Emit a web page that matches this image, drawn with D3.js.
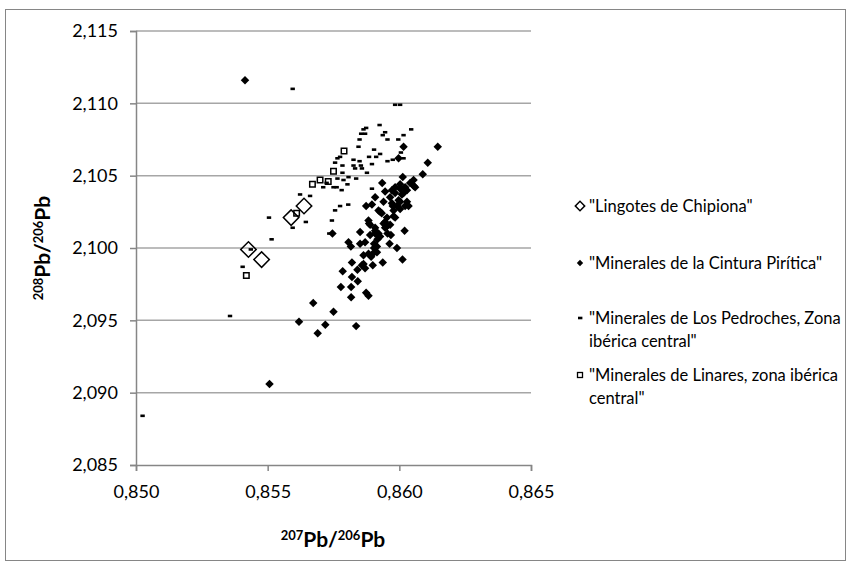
<!DOCTYPE html>
<html>
<head>
<meta charset="utf-8">
<script src="https://cdn.jsdelivr.net/npm/d3@7"></script>
<style>
  body { margin: 0; background: #fff; }
  svg { font-family: Lato, "Open Sans", sans-serif; }
</style>
</head>
<body>
<svg width="851" height="570"></svg>
<script>
// Lead isotope ratios: [207Pb/206Pb, 208Pb/206Pb]
var lingotes = [
  [0.85427, 2.0999], [0.85477, 2.0992], [0.85589, 2.1021], [0.85638, 2.1029]
];

var cintura = [
  [0.85414, 2.1116], [0.85507, 2.0906], [0.85619, 2.0949], [0.85673, 2.0962],
  [0.85690, 2.0941], [0.85719, 2.0947], [0.85750, 2.0956], [0.85836, 2.0946],
  [0.85778, 2.0973], [0.85817, 2.0973], [0.85817, 2.0966], [0.85874, 2.0969],
  [0.85883, 2.0967], [0.85785, 2.0984], [0.85820, 2.0980], [0.85842, 2.0977],
  [0.85820, 2.0990], [0.85841, 2.0985], [0.85864, 2.0989], [0.85858, 2.0988],
  [0.85870, 2.0986], [0.85899, 2.0988], [0.85937, 2.0990], [0.86012, 2.0992],
  [0.85864, 2.0995], [0.85893, 2.0994], [0.85883, 2.0996], [0.85915, 2.0997],
  [0.85904, 2.1000], [0.85807, 2.1004], [0.85816, 2.1001], [0.85851, 2.1003],
  [0.85870, 2.1004], [0.85904, 2.1003], [0.85917, 2.1006], [0.85927, 2.1008],
  [0.85908, 2.1010], [0.85889, 2.1009], [0.85851, 2.1011], [0.85955, 2.1010],
  [0.85968, 2.1009], [0.85963, 2.1003], [0.85991, 2.1000], [0.86020, 2.1012],
  [0.85746, 2.1010], [0.85885, 2.1017], [0.85883, 2.1019], [0.85953, 2.1015],
  [0.85946, 2.1018], [0.85953, 2.1021], [0.85984, 2.1021], [0.85921, 2.1026],
  [0.85874, 2.1029], [0.85896, 2.1030], [0.85975, 2.1029], [0.85940, 2.1032],
  [0.86029, 2.1032], [0.86003, 2.1032], [0.85908, 2.1012], [0.85915, 2.1001],
  [0.85899, 2.0996], [0.86089, 2.1051], [0.86054, 2.1047], [0.86013, 2.1049],
  [0.85935, 2.1045], [0.86054, 2.1043], [0.86022, 2.1042], [0.86003, 2.1044],
  [0.85972, 2.1040], [0.85984, 2.1038], [0.86010, 2.1037], [0.85997, 2.1033],
  [0.86022, 2.1029], [0.86003, 2.1027], [0.85972, 2.1031], [0.85978, 2.1026],
  [0.85927, 2.1025], [0.85978, 2.1022], [0.85940, 2.1017], [0.85965, 2.1016],
  [0.85946, 2.1014], [0.85965, 2.1035], [0.86029, 2.1040], [0.86041, 2.1045],
  [0.85908, 2.1035], [0.85946, 2.1039], [0.85933, 2.1024], [0.85889, 2.1016],
  [0.85908, 2.1014], [0.85921, 2.1010], [0.86060, 2.1042], [0.86108, 2.1059],
  [0.86146, 2.1070], [0.86016, 2.1070], [0.85997, 2.1062], [0.86003, 2.1041],
  [0.86016, 2.1038], [0.85991, 2.1029], [0.86035, 2.1029], [0.85984, 2.1042]
];

var pedroches = [
  [0.85595, 2.1110], [0.85025, 2.0884], [0.85357, 2.0953], [0.85405, 2.0987],
  [0.85436, 2.0999], [0.85515, 2.1006], [0.85505, 2.1021], [0.85595, 2.1014],
  [0.85645, 2.1018], [0.85623, 2.1037], [0.85661, 2.1036], [0.85734, 2.1010],
  [0.85744, 2.1019], [0.85756, 2.1026], [0.85775, 2.1029], [0.85806, 2.1030],
  [0.85711, 2.1042], [0.85724, 2.1045], [0.85750, 2.1042], [0.85762, 2.1042],
  [0.85781, 2.1040], [0.85803, 2.1044], [0.85765, 2.1048], [0.85788, 2.1047],
  [0.85807, 2.1049], [0.85836, 2.1048], [0.85784, 2.1052], [0.85877, 2.1052],
  [0.85832, 2.1055], [0.85858, 2.1055], [0.85756, 2.1059], [0.85784, 2.1057],
  [0.85826, 2.1057], [0.85854, 2.1057], [0.85896, 2.1058], [0.85775, 2.1063],
  [0.85765, 2.1062], [0.85826, 2.1061], [0.85849, 2.1060], [0.85845, 2.1070],
  [0.85885, 2.1063], [0.85912, 2.1063], [0.85904, 2.1068], [0.85927, 2.1065],
  [0.85955, 2.1060], [0.85975, 2.1061], [0.86006, 2.1066], [0.86016, 2.1062],
  [0.85996, 2.1075], [0.86016, 2.1078], [0.86045, 2.1082], [0.85925, 2.1085],
  [0.85946, 2.1080], [0.85937, 2.1078], [0.85955, 2.1075], [0.85984, 2.1099],
  [0.86003, 2.1099], [0.85874, 2.1083], [0.85864, 2.1082], [0.85855, 2.1079],
  [0.85870, 2.1079], [0.85849, 2.1075], [0.85896, 2.1041]
];

var linares = [
  [0.85419, 2.0981], [0.85610, 2.1024], [0.85670, 2.1044], [0.85699, 2.1047],
  [0.85730, 2.1046], [0.85750, 2.1053], [0.85790, 2.1067]
];

var xTicks = [0.850, 0.855, 0.860, 0.865];
var yTicks = [2.085, 2.090, 2.095, 2.100, 2.105, 2.110, 2.115];

var legendLabels = [
  ["\"Lingotes de Chipiona\""],
  ["\"Minerales de la Cintura Pirítica\""],
  ["\"Minerales de Los Pedroches, Zona", "ibérica central\""],
  ["\"Minerales de Linares, zona ibérica", "central\""]
];

var svg = d3.select("svg");
var fmt = function(d) { return d3.format(".3f")(d).replace(".", ","); };

// outer chart border
svg.append("rect")
  .attr("x", 5.5).attr("y", 9.5)
  .attr("width", 840).attr("height", 551)
  .attr("fill", "#fff")
  .attr("stroke", "#868686");

var x = d3.scaleLinear().domain([0.850, 0.865]).range([136, 531]);
var y = d3.scaleLinear().domain([2.085, 2.115]).range([465, 31]);

// horizontal gridlines
svg.append("g")
  .selectAll("line")
  .data(yTicks.slice(1))
  .enter().append("line")
    .attr("x1", x(0.850)).attr("x2", x(0.865))
    .attr("y1", function(d) { return y(d); })
    .attr("y2", function(d) { return y(d); })
    .attr("stroke", "#a6a6a6")
    .attr("stroke-width", 1.5);

var yAxis = svg.append("g")
  .attr("transform", "translate(" + x(0.850) + ",0)")
  .call(d3.axisLeft(y).tickValues(yTicks).tickFormat(fmt).tickSize(6).tickPadding(12));

var xAxis = svg.append("g")
  .attr("transform", "translate(0," + y(2.085) + ")")
  .call(d3.axisBottom(x).tickValues(xTicks).tickFormat(fmt).tickSize(6).tickPadding(14));

[xAxis, yAxis].forEach(function(a) {
  a.select(".domain").attr("stroke", "#868686").attr("stroke-width", 1.5);
  a.selectAll(".tick line").attr("stroke", "#868686").attr("stroke-width", 1.5);
  a.selectAll("text").attr("fill", "#000").style("font-size", "18px")
    .style("font-family", "Lato, sans-serif");
});

// axis titles
var xt = svg.append("text")
  .attr("x", 333).attr("y", 547)
  .attr("text-anchor", "middle")
  .style("font-weight", "bold").style("font-size", "21px");
xt.append("tspan").attr("dy", "-7").style("font-size", "13px").text("207");
xt.append("tspan").attr("dy", "7").text("Pb/");
xt.append("tspan").attr("dy", "-7").style("font-size", "13px").text("206");
xt.append("tspan").attr("dy", "7").text("Pb");

var yt = svg.append("text")
  .attr("transform", "translate(50,248) rotate(-90)")
  .attr("text-anchor", "middle")
  .style("font-weight", "bold").style("font-size", "21px");
yt.append("tspan").attr("dy", "-7").style("font-size", "13px").text("208");
yt.append("tspan").attr("dy", "7").text("Pb/");
yt.append("tspan").attr("dy", "-7").style("font-size", "13px").text("206");
yt.append("tspan").attr("dy", "7").text("Pb");

// marker shapes
var bigDiamond = d3.symbol().type(d3.symbolSquare).size(120);
var smallDiamond = d3.symbol().type(d3.symbolSquare).size(36);
var squareMark = d3.symbol().type(d3.symbolSquare).size(30);

function pos(d) { return "translate(" + x(d[0]) + "," + y(d[1]) + ")"; }

svg.append("g").selectAll("path")
  .data(lingotes).enter().append("path")
    .attr("d", bigDiamond)
    .attr("transform", function(d) { return pos(d) + " rotate(45)"; })
    .attr("fill", "none").attr("stroke", "#000").attr("stroke-width", 1.5);

svg.append("g").selectAll("path")
  .data(cintura).enter().append("path")
    .attr("d", smallDiamond)
    .attr("transform", function(d) { return pos(d) + " rotate(45)"; })
    .attr("fill", "#000");

svg.append("g").selectAll("rect")
  .data(pedroches).enter().append("rect")
    .attr("x", function(d) { return x(d[0]) - 2.2; })
    .attr("y", function(d) { return y(d[1]) - 1.3; })
    .attr("width", 4.4).attr("height", 2.6)
    .attr("fill", "#000");

svg.append("g").selectAll("path")
  .data(linares).enter().append("path")
    .attr("d", squareMark)
    .attr("transform", pos)
    .attr("fill", "none").attr("stroke", "#000").attr("stroke-width", 1.5);

// legend
var legendY = [206, 263, 318, 375];
var legend = svg.append("g");

legendLabels.forEach(function(lines, i) {
  var ly = legendY[i];
  var t = legend.append("text")
    .attr("x", 589).attr("y", ly + 6)
    .style("font-size", "16.5px");
  lines.forEach(function(l, j) {
    t.append("tspan").attr("x", 589).attr("dy", j ? 23 : 0).text(l);
  });
});

legend.append("path").attr("d", d3.symbol().type(d3.symbolSquare).size(44))
  .attr("transform", "translate(580," + legendY[0] + ") rotate(45)")
  .attr("fill", "none").attr("stroke", "#000").attr("stroke-width", 1.5);
legend.append("path").attr("d", d3.symbol().type(d3.symbolSquare).size(20))
  .attr("transform", "translate(580," + legendY[1] + ") rotate(45)")
  .attr("fill", "#000");
legend.append("rect").attr("x", 578).attr("y", legendY[2] - 1.3)
  .attr("width", 4.4).attr("height", 2.6).attr("fill", "#000");
legend.append("rect").attr("x", 577.5).attr("y", legendY[3] - 2.5)
  .attr("width", 5).attr("height", 5)
  .attr("fill", "none").attr("stroke", "#000").attr("stroke-width", 1.3);
</script>
</body>
</html>
